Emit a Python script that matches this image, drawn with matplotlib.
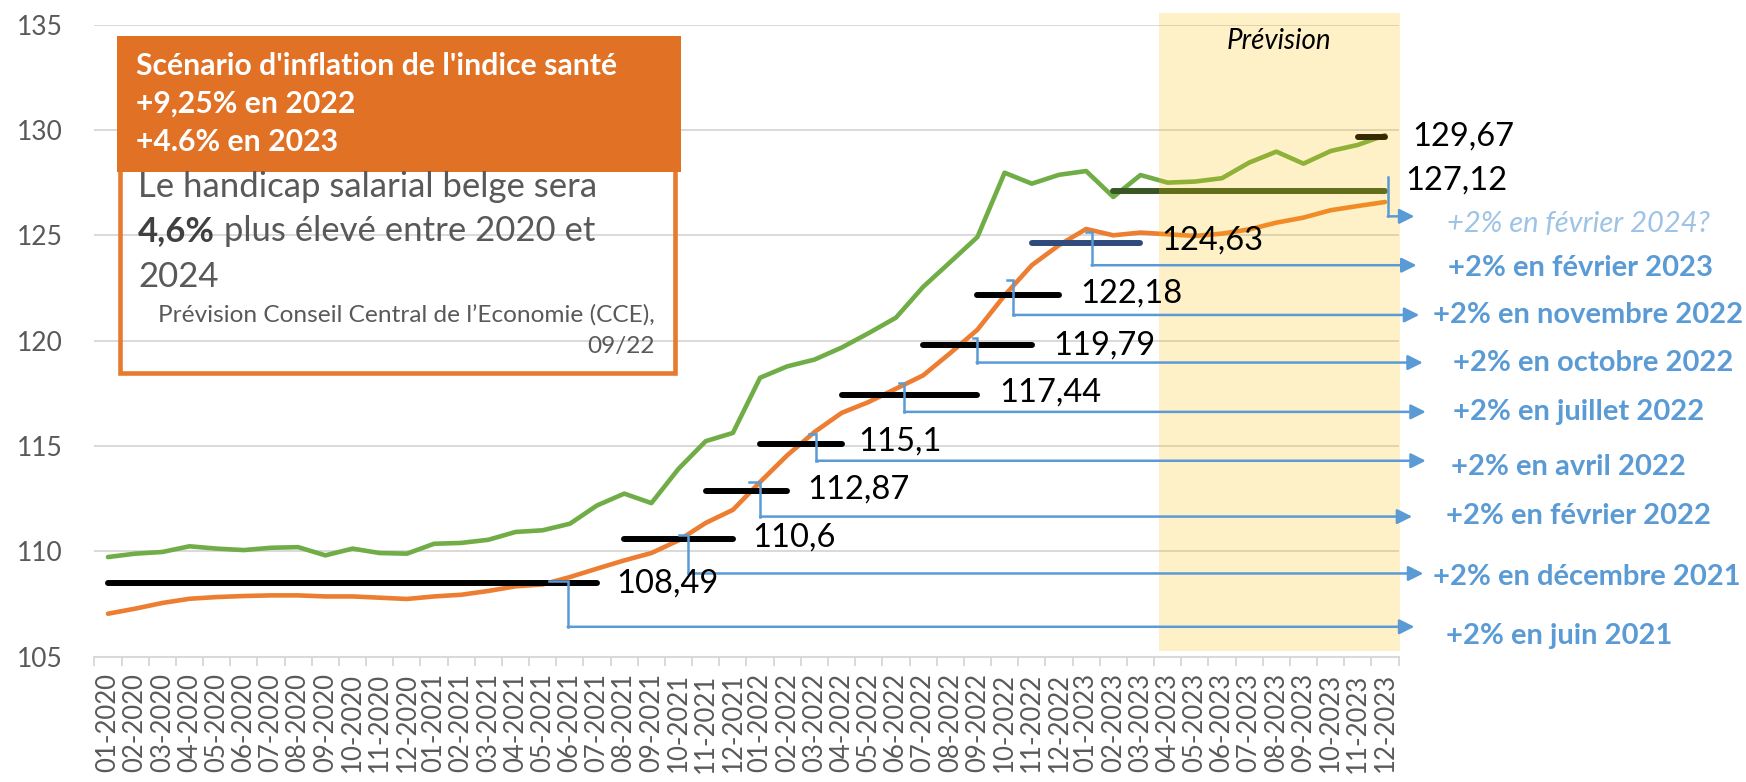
import matplotlib
matplotlib.use("Agg")
import matplotlib.pyplot as plt
from matplotlib.patches import Rectangle

plt.rcParams['font.family'] = ['Lato', 'DejaVu Sans']

# --- data ---
months = [f"{m:02d}-{y}" for y in (2020, 2021, 2022, 2023) for m in range(1, 13)]

# index santé lissé (vert) et indice santé (orange)
green = [109.73, 109.89, 109.97, 110.24, 110.13, 110.06, 110.17, 110.20, 109.81, 110.13, 109.92, 109.89,
         110.36, 110.40, 110.55, 110.92, 111.00, 111.31, 112.18, 112.74, 112.29, 113.92, 115.23, 115.62,
         118.24, 118.78, 119.10, 119.67, 120.36, 121.09, 122.55, 123.73, 124.92, 127.97, 127.45, 127.87,
         128.05, 126.82, 127.86, 127.50, 127.55, 127.71, 128.45, 128.97, 128.40, 129.00, 129.29, 129.75]
orange = [107.04, 107.28, 107.55, 107.75, 107.83, 107.88, 107.91, 107.91, 107.86, 107.86, 107.80, 107.74,
          107.86, 107.94, 108.12, 108.34, 108.43, 108.78, 109.18, 109.57, 109.92, 110.52, 111.35, 111.97,
          113.29, 114.56, 115.66, 116.57, 117.09, 117.72, 118.35, 119.41, 120.52, 122.15, 123.58, 124.53,
          125.30, 125.00, 125.13, 125.05, 124.97, 125.08, 125.28, 125.60, 125.84, 126.19, 126.39, 126.58]

# indices pivots
pivots = [108.49, 110.6, 112.87, 115.1, 117.44, 119.79, 122.18, 124.63, 127.12, 129.67]
pivot_start = [0, 19, 22, 24, 27, 30, 32, 34, 37, 46]
pivot_end = [18, 23, 25, 27, 32, 34, 35, 38, 47, 47]

steps = ["+2% en juin 2021", "+2% en décembre 2021", "+2% en février 2022", "+2% en avril 2022",
         "+2% en juillet 2022", "+2% en octobre 2022", "+2% en novembre 2022", "+2% en février 2023",
         "+2% en février 2024?"]

# --- layout (positions of annotations, in category / index units) ---
pivot_colors = ['black'] * 7 + ['#2F4A7C', '#385723', 'black']
lab_dx = [0.7, 0.7, 0.75, 0.6, 0.8, 0.8, 0.8, 0.75, 0.75, 1.0]
lab_dy = [0.0, 0.05, 0.05, 0.12, 0.1, 0.0, 0.08, 0.1, 0.47, 0.04]

conn_from = [16.22, 21.0, 23.6, 25.8, 29.1, 31.85, 33.1, 36.0, 47.1]
conn_x = [16.92, 21.36, 24.0, 26.07, 29.3, 31.97, 33.32, 36.2, 47.1]
conn_top = [108.58, 110.79, 113.29, 115.59, 118.0, 120.14, 122.9, 125.16, 127.78]
conn_y = [106.42, 108.95, 111.65, 114.3, 116.62, 118.96, 121.22, 123.58, 125.9]
conn_tip = [48.08, 48.41, 48.0, 48.5, 48.5, 48.39, 48.26, 48.16, 48.08]
step_lx = [49.25, 48.78, 49.25, 49.43, 49.49, 49.49, 48.78, 49.33, 49.27]
step_ly = [105.96, 108.78, 111.66, 114.02, 116.6, 118.94, 121.2, 123.45, 125.56]

W, H = 1746, 782
GRAY = '#595959'
BLUE = '#5B9BD5'


def fx(px):
    return px / W


def fy(py):
    return 1 - py / H


fig = plt.figure(figsize=(W / 100, H / 100), dpi=100)
ax = fig.add_axes([fx(94.4), fy(656.7), (1398.6 - 94.4) / W, (656.7 - 24.6) / H])

x = list(range(len(months)))
ax.plot(x, green, color='#70AD47', lw=3.3, zorder=2, solid_capstyle='round')
ax.plot(x, orange, color='#ED7D31', lw=3.3, zorder=2.1, solid_capstyle='round')

for v, s, e, c, dx, dy in zip(pivots, pivot_start, pivot_end, pivot_colors, lab_dx, lab_dy):
    ax.plot([s, e], [v, v], color=c, lw=4.3, solid_capstyle='round', zorder=3, clip_on=False)
    ax.text(e + dx, v + dy, f"{v:g}".replace('.', ','), fontsize=23.5, color='black',
            va='center', ha='left', zorder=7, clip_on=False)

# zone de prévision (forme jaune transparente par-dessus)
ax.add_patch(Rectangle((38.7, 105.25), 47.55 - 38.7, 135.55 - 105.25, facecolor='#FFC000',
                       edgecolor='none', alpha=0.22, zorder=4, clip_on=False))
ax.text(43.1, 134.2, "Prévision", fontsize=20, style='italic', color='black',
        ha='center', va='center', zorder=7)

# connecteurs fléchés
for i, lab in enumerate(steps):
    last = i == len(steps) - 1
    ax.plot([conn_from[i], conn_x[i], conn_x[i], conn_x[i] + 0.01],
            [conn_top[i], conn_top[i], conn_y[i], conn_y[i]],
            color=BLUE, lw=1.8, zorder=5, clip_on=False, solid_joinstyle='miter')
    ax.annotate("", xy=(conn_tip[i], conn_y[i]), xytext=(conn_x[i], conn_y[i]),
                arrowprops=dict(arrowstyle="-|>,head_length=9,head_width=4.5", mutation_scale=1,
                                color=BLUE, lw=1.8, shrinkA=0, shrinkB=0),
                annotation_clip=False, zorder=5)
    ax.text(step_lx[i], step_ly[i], lab, fontsize=21, ha='left', va='center',
            color='#9DC3E6' if last else BLUE,
            fontweight='normal' if last else 'bold',
            style='italic' if last else 'normal', clip_on=False, zorder=7)

ax.set_xlim(-0.5, 47.5)
ax.set_ylim(105, 135)
ax.set_yticks(range(105, 136, 5))
ax.yaxis.grid(True, color='#D9D9D9', lw=1.4, zorder=0.5)
ax.set_axisbelow(True)
for sp in ['left', 'right', 'top']:
    ax.spines[sp].set_visible(False)
ax.spines['bottom'].set_color('#D9D9D9')
ax.spines['bottom'].set_linewidth(1.5)

ax.set_xticks(x)
ax.set_xticklabels(months, rotation=90, fontsize=18.5, color=GRAY, va='top')
ax.set_xticks([i - 0.5 for i in range(len(months) + 1)], minor=True)
ax.tick_params(axis='x', which='major', length=0, pad=12)
ax.tick_params(axis='x', which='minor', length=6.7, width=1.4, color='#D9D9D9', direction='out')
ax.tick_params(axis='y', length=0, pad=23, labelsize=19, labelcolor=GRAY)

# encadré orange
fig.add_artist(Rectangle((fx(119.5), fy(373)), 555 / W, 220 / H, transform=fig.transFigure,
                         facecolor='none', edgecolor='#E67A2E', lw=3.3, zorder=5))
fig.add_artist(Rectangle((fx(117), fy(172)), 564 / W, 136 / H, transform=fig.transFigure,
                         facecolor='#E07125', edgecolor='none', zorder=6))

header = ["Scénario d'inflation de l'indice santé", "+9,25% en 2022", "+4.6% en 2023"]
for line, py in zip(header, [65.7, 104, 141.7]):
    fig.text(fx(136), fy(py), line, fontsize=21.7, fontweight='bold', color='white',
             ha='left', va='center', zorder=7)

fig.text(fx(138), fy(186.7), "Le handicap salarial belge sera", fontsize=25, color=GRAY,
         ha='left', va='center', zorder=7)
t_bold = fig.text(fx(138), fy(231), "4,6%", fontsize=25, fontweight='bold', color='#404040',
                  ha='left', va='center', zorder=7)
fig.add_artist(plt.Annotation(" plus élevé entre 2020 et", xy=(1, 0.5), xycoords=t_bold,
                              fontsize=25, color=GRAY, ha='left', va='center', zorder=7))
fig.text(fx(138), fy(276.7), "2024", fontsize=25, color=GRAY, ha='left', va='center', zorder=7)
fig.text(fx(655), fy(315), "Prévision Conseil Central de l’Economie (CCE),", fontsize=17.6,
         color=GRAY, ha='right', va='center', zorder=7)
fig.text(fx(655), fy(346.7), "09/22", fontsize=17.6, color=GRAY, ha='right', va='center', zorder=7)

plt.savefig("out.png", dpi=100)
